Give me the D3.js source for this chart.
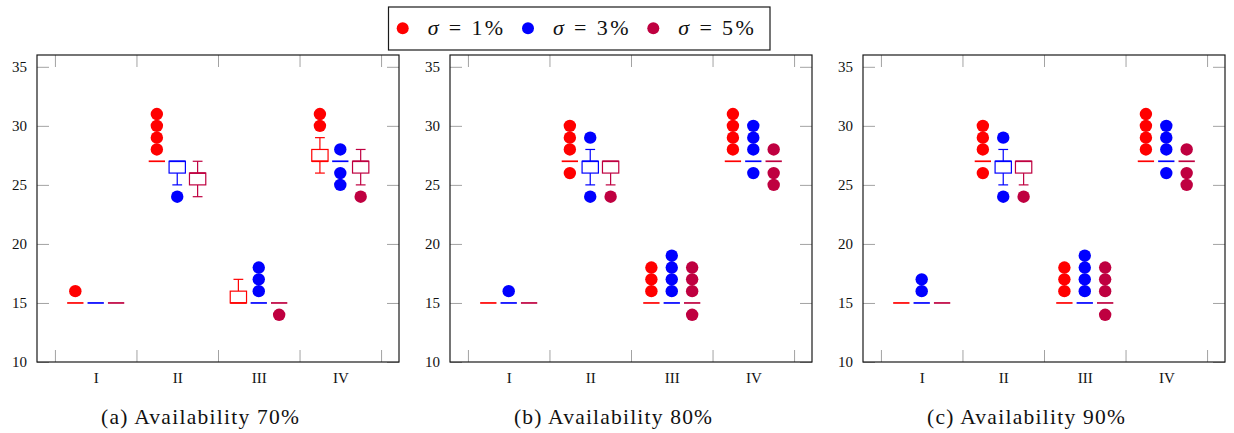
<!DOCTYPE html>
<html>
<head>
<meta charset="utf-8">
<script src="https://cdn.jsdelivr.net/npm/d3@7"></script>
<style>
  html, body { margin: 0; padding: 0; background: #fff; }
  svg text { font-family: "Liberation Serif", "DejaVu Serif", serif; }
</style>
</head>
<body>
<svg id="chart" width="1234" height="433"></svg>
<script>
// ---- data ----
const categories = ["I", "II", "III", "IV"];
const seriesLabels = ["1%", "3%", "5%"];
const seriesColors = ["#ff0000", "#0000ff", "#bf0040"];
const panelTitles = ["(a) Availability 70%", "(b) Availability 80%", "(c) Availability 90%"];
const yTicks = [10, 15, 20, 25, 30, 35];

// box statistics: category -> series -> [lower whisker, q1, median, q3, upper whisker]
const boxes70 = [
  [[15, 15, 15, 15, 15], [15, 15, 15, 15, 15], [15, 15, 15, 15, 15]],
  [[27, 27, 27, 27, 27], [25, 26, 27, 27, 27], [24, 25, 26, 26, 27]],
  [[15, 15, 15, 16, 17], [15, 15, 15, 15, 15], [15, 15, 15, 15, 15]],
  [[26, 27, 27, 28, 29], [27, 27, 27, 27, 27], [25, 26, 27, 27, 28]]
];
const outliers70 = [
  [[16], [], []],
  [[28, 29, 30, 31], [24], []],
  [[], [16, 17, 18], [14]],
  [[30, 31], [25, 26, 28], [24]]
];

const boxes80 = [
  [[15, 15, 15, 15, 15], [15, 15, 15, 15, 15], [15, 15, 15, 15, 15]],
  [[27, 27, 27, 27, 27], [25, 26, 27, 27, 28], [25, 26, 27, 27, 27]],
  [[15, 15, 15, 15, 15], [15, 15, 15, 15, 15], [15, 15, 15, 15, 15]],
  [[27, 27, 27, 27, 27], [27, 27, 27, 27, 27], [27, 27, 27, 27, 27]]
];
const outliers80 = [
  [[], [16], []],
  [[26, 28, 29, 30], [24, 29], [24]],
  [[16, 17, 18], [16, 17, 18, 19], [14, 16, 17, 18]],
  [[28, 29, 30, 31], [26, 28, 29, 30], [25, 26, 28]]
];

const boxes90 = [
  [[15, 15, 15, 15, 15], [15, 15, 15, 15, 15], [15, 15, 15, 15, 15]],
  [[27, 27, 27, 27, 27], [25, 26, 27, 27, 28], [25, 26, 27, 27, 27]],
  [[15, 15, 15, 15, 15], [15, 15, 15, 15, 15], [15, 15, 15, 15, 15]],
  [[27, 27, 27, 27, 27], [27, 27, 27, 27, 27], [27, 27, 27, 27, 27]]
];
const outliers90 = [
  [[], [16, 17], []],
  [[26, 28, 29, 30], [24, 29], [24]],
  [[16, 17, 18], [16, 17, 18, 19], [14, 16, 17, 18]],
  [[28, 29, 30, 31], [26, 28, 29, 30], [25, 26, 28]]
];

const panelData = [
  { title: panelTitles[0], boxes: boxes70, outliers: outliers70 },
  { title: panelTitles[1], boxes: boxes80, outliers: outliers80 },
  { title: panelTitles[2], boxes: boxes90, outliers: outliers90 }
];

// ---- layout ----
const serif = "'Liberation Serif', 'DejaVu Serif', serif";
const panelLeft = [37, 450, 863];
const panelTop = 55;
const plotW = 362;
const plotH = 307;
const seriesOffset = 0.25;   // horizontal shift between series inside a category
const boxWidth = 0.2;        // box width in category units
const capWidth = 0.12;       // whisker cap width
const dotR = 6.2;
const tickGray = "#a3a3a3";

const svg = d3.select("#chart");

const x = d3.scaleLinear().domain([0.28, 4.72]).range([0, plotW]);
const y = d3.scaleLinear().domain([10, 36]).range([plotH, 0]);
const boundaries = d3.range(categories.length + 1).map(i => i + 0.5);

function styleTicks(g) {
  g.attr("font-family", serif);
  g.select(".domain").remove();
  g.selectAll(".tick line").attr("stroke", tickGray).attr("stroke-width", 1);
  g.selectAll(".tick text").attr("font-size", 15).attr("fill", "#111").attr("font-family", serif);
}

panelData.forEach((panel, p) => {
  const g = svg.append("g").attr("transform", `translate(${panelLeft[p]},${panelTop})`);

  // inward ticks on all four sides
  g.append("g")
    .call(d3.axisLeft(y).tickValues(yTicks).tickSize(-12).tickPadding(10).tickFormat(d3.format("d")))
    .call(styleTicks);
  g.append("g").attr("transform", `translate(${plotW},0)`)
    .call(d3.axisRight(y).tickValues(yTicks).tickSize(-12).tickFormat(""))
    .call(styleTicks);
  g.append("g").attr("transform", `translate(0,${plotH})`)
    .call(d3.axisBottom(x).tickValues(boundaries).tickSize(-12).tickFormat(""))
    .call(styleTicks);
  g.append("g")
    .call(d3.axisTop(x).tickValues(boundaries).tickSize(-12).tickFormat(""))
    .call(styleTicks);

  // category labels
  g.append("g").attr("transform", `translate(0,${plotH})`)
    .call(d3.axisBottom(x).tickValues(categories.map((c, i) => i + 1)).tickSize(0).tickPadding(10)
      .tickFormat(v => categories[v - 1]))
    .call(styleTicks);

  // frame
  g.append("rect")
    .attr("x", 0).attr("y", 0).attr("width", plotW).attr("height", plotH)
    .attr("fill", "none").attr("stroke", "#1a1a1a").attr("stroke-width", 1.2);

  // box plots
  panel.boxes.forEach((catBoxes, ci) => {
    catBoxes.forEach((b, si) => {
      const cx = ci + 1 + (si - 1) * seriesOffset;
      const col = seriesColors[si];
      const [lo, q1, med, q3, hi] = b;
      const bg = g.append("g").attr("stroke", col).attr("fill", "none");
      // whiskers
      if (lo < q1) {
        bg.append("line").attr("x1", x(cx)).attr("x2", x(cx)).attr("y1", y(q1)).attr("y2", y(lo)).attr("stroke-width", 1.2);
        bg.append("line").attr("x1", x(cx - capWidth / 2)).attr("x2", x(cx + capWidth / 2))
          .attr("y1", y(lo)).attr("y2", y(lo)).attr("stroke-width", 1.2);
      }
      if (hi > q3) {
        bg.append("line").attr("x1", x(cx)).attr("x2", x(cx)).attr("y1", y(q3)).attr("y2", y(hi)).attr("stroke-width", 1.2);
        bg.append("line").attr("x1", x(cx - capWidth / 2)).attr("x2", x(cx + capWidth / 2))
          .attr("y1", y(hi)).attr("y2", y(hi)).attr("stroke-width", 1.2);
      }
      // box
      bg.append("rect")
        .attr("x", x(cx - boxWidth / 2)).attr("width", x(cx + boxWidth / 2) - x(cx - boxWidth / 2))
        .attr("y", y(q3)).attr("height", y(q1) - y(q3))
        .attr("fill", "#fff").attr("stroke-width", 1.2);
      // median
      bg.append("line").attr("x1", x(cx - boxWidth / 2)).attr("x2", x(cx + boxWidth / 2))
        .attr("y1", y(med)).attr("y2", y(med)).attr("stroke-width", 1.7);
    });
  });

  // outliers
  panel.outliers.forEach((catOut, ci) => {
    catOut.forEach((vals, si) => {
      const cx = ci + 1 + (si - 1) * seriesOffset;
      g.selectAll(null).data(vals).enter().append("circle")
        .attr("cx", x(cx)).attr("cy", d => y(d)).attr("r", dotR)
        .attr("fill", seriesColors[si]);
    });
  });

  // caption
  svg.append("text")
    .attr("x", panelLeft[p] + plotW / 2 - 18).attr("y", 424)
    .attr("text-anchor", "middle").attr("font-size", 21.5).attr("fill", "#111")
    .attr("font-family", serif)
    .attr("textLength", 198).attr("lengthAdjust", "spacing")
    .text(panel.title);
});

// ---- legend ----
const legend = svg.append("g").attr("transform", "translate(388.5,7)");
legend.append("rect").attr("width", 381.5).attr("height", 43)
  .attr("fill", "#fff").attr("stroke", "#1a1a1a").attr("stroke-width", 1.2);
seriesLabels.forEach((lab, i) => {
  const item = legend.append("g").attr("transform", `translate(${14.2 + i * 125.3},21.3)`);
  item.append("circle").attr("r", 6).attr("fill", seriesColors[i]);
  const t = item.append("text").attr("x", 25).attr("y", 6.5)
    .attr("font-size", 22).attr("fill", "#111").attr("font-family", serif)
    .attr("textLength", 75.5).attr("lengthAdjust", "spacing");
  t.append("tspan").attr("font-style", "italic").text("σ");
  t.append("tspan").text(" = " + lab);
});
</script>
</body>
</html>
